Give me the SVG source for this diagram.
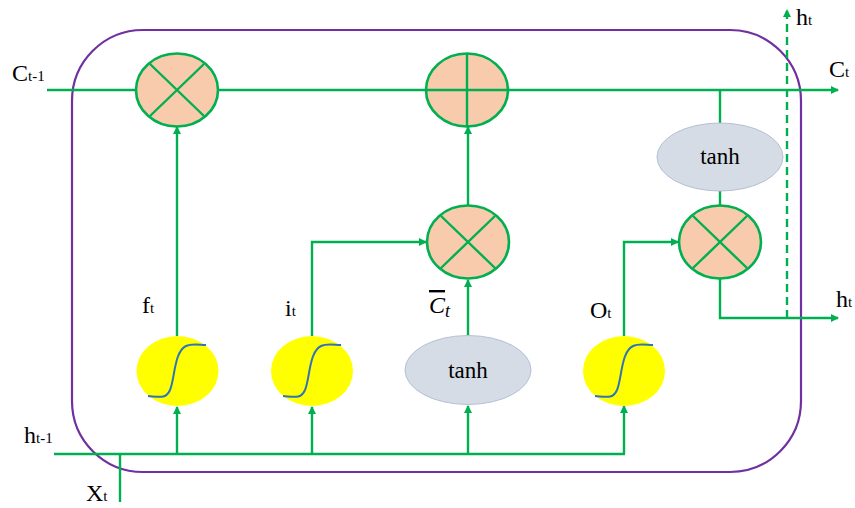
<svg xmlns="http://www.w3.org/2000/svg" width="855" height="508" viewBox="0 0 855 508">
<style>
.ln{fill:none;stroke:#00B050;stroke-width:2.4}
.dash{fill:none;stroke:#00B050;stroke-width:2.4;stroke-dasharray:8,5}
.mul{fill:#F8CBAD;stroke:#00B050;stroke-width:2.6}
.cross{stroke:#00B050;stroke-width:2.4}
.sig{fill:#FFFF00}
.sigc{fill:none;stroke:#2E75B6;stroke-width:2}
.th{fill:#D6DCE5;stroke:#B4C0D4;stroke-width:1}
.lb{font-family:"Liberation Serif","Times New Roman",serif;font-size:24px;fill:#000}
.sub{font-size:15px}
.tt{font-family:"Liberation Serif","Times New Roman",serif;font-size:23px;fill:#000;text-anchor:middle}
</style>
<defs>
<marker id="ar" viewBox="0 0 8 8" refX="7" refY="4" markerWidth="8" markerHeight="8" markerUnits="userSpaceOnUse" orient="auto">
<path d="M0,0 L8,4 L0,8 z" fill="#00B050"/>
</marker>
</defs>
<rect id="cell" x="72" y="30" width="729" height="442" rx="71" ry="71" fill="none" stroke="#7030A0" stroke-width="2.2"/>
<g id="connectors">
<path class="ln" d="M47,90 L838,90" marker-end="url(#ar)"/>
<path class="ln" d="M54,454 L625,454"/>
<path class="ln" d="M120,454 L120,502"/>
<path class="ln" d="M177,454 L177,407" marker-end="url(#ar)"/>
<path class="ln" d="M312,454 L312,407" marker-end="url(#ar)"/>
<path class="ln" d="M468,454 L468,406" marker-end="url(#ar)"/>
<path class="ln" d="M624,454 L624,406" marker-end="url(#ar)"/>
<path class="ln" d="M177,336 L177,127" marker-end="url(#ar)"/>
<path class="ln" d="M312,336 L312,242 L426,242" marker-end="url(#ar)"/>
<path class="ln" d="M468,336 L468,280" marker-end="url(#ar)"/>
<path class="ln" d="M468,206 L468,127" marker-end="url(#ar)"/>
<path class="ln" d="M624,336 L624,242 L678,242" marker-end="url(#ar)"/>
<path class="ln" d="M720,90 L720,123"/>
<path class="ln" d="M720,191 L720,206"/>
<path class="ln" d="M720,279 L720,318 L838,318" marker-end="url(#ar)"/>
<path class="dash" d="M787,318 L787,10" marker-end="url(#ar)"/>
</g>
<g id="mul_f">
<ellipse class="mul" cx="177" cy="90" rx="41" ry="36.5"/>
<path class="cross" d="M150,64 L204,116 M150,116 L204,64"/>
</g>
<g id="add_c">
<ellipse class="mul" cx="467" cy="90" rx="41" ry="36.5"/>
<path class="cross" d="M467,53.5 L467,126.5 M426,90 L508,90"/>
</g>
<g id="mul_i">
<ellipse class="mul" cx="468" cy="242" rx="41" ry="36.5"/>
<path class="cross" d="M441,216 L495,268 M441,268 L495,216"/>
</g>
<g id="mul_o">
<ellipse class="mul" cx="720" cy="242" rx="41" ry="36.5"/>
<path class="cross" d="M693,216 L747,268 M693,268 L747,216"/>
</g>
<g id="tanh_c">
<ellipse class="th" cx="720" cy="157" rx="63" ry="34"/>
<text class="tt" x="720" y="164">tanh</text>
</g>
<g id="tanh_g">
<ellipse class="th" cx="468" cy="370" rx="63" ry="34.5"/>
<text class="tt" x="468" y="378">tanh</text>
</g>
<g id="sig_f">
<ellipse class="sig" cx="177.5" cy="371" rx="41" ry="35"/>
<path class="sigc" d="M148,396 C160,397 166,399 170,390 C175,378 174,352 186,346 C192,343 200,345 206,345"/>
</g>
<g id="sig_i">
<ellipse class="sig" cx="312" cy="371" rx="41" ry="35"/>
<path class="sigc" d="M283,396 C295,397 301,399 305,390 C310,378 309,352 321,346 C327,343 335,345 341,345"/>
</g>
<g id="sig_o">
<ellipse class="sig" cx="624" cy="371" rx="41" ry="35"/>
<path class="sigc" d="M595,396 C607,397 613,399 617,390 C622,378 621,352 633,346 C639,343 647,345 653,345"/>
</g>
<g id="labels">
<text class="lb" x="12" y="81">C<tspan class="sub">t-1</tspan></text>
<text class="lb" x="829" y="77">C<tspan class="sub">t</tspan></text>
<text class="lb" x="796" y="25">h<tspan class="sub">t</tspan></text>
<text class="lb" x="836" y="307">h<tspan class="sub">t</tspan></text>
<text class="lb" x="24" y="443">h<tspan class="sub">t-1</tspan></text>
<text class="lb" x="86" y="501">X<tspan class="sub">t</tspan></text>
<text class="lb" x="142" y="313">f<tspan class="sub">t</tspan></text>
<text class="lb" x="285" y="316">i<tspan class="sub">t</tspan></text>
<text class="lb" x="590" y="318">O<tspan class="sub">t</tspan></text>
<text class="lb" x="429" y="313" font-style="italic"><tspan text-decoration="overline">C</tspan><tspan font-size="18" dy="4">t</tspan></text>
</g>
</svg>
